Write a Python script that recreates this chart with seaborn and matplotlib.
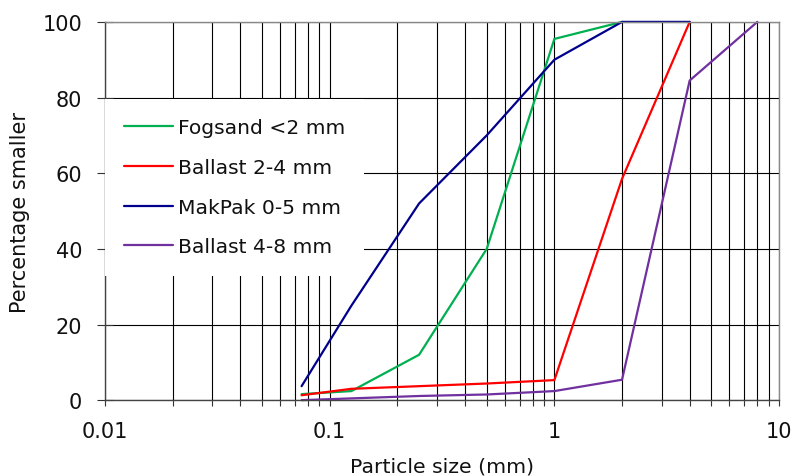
import numpy as np
import pandas as pd
import seaborn as sns
import matplotlib
matplotlib.use('Agg')
import matplotlib.pyplot as plt
from matplotlib.ticker import LogLocator, NullFormatter

# sieve data
fog_x = [0.075, 0.125, 0.25, 0.5, 1, 2]
fog_y = [1.6, 2.4, 12, 40, 95.5, 100]
b24_x = [0.075, 0.125, 0.25, 0.5, 1, 2, 4]
b24_y = [1.3, 3.0, 3.7, 4.4, 5.3, 58.5, 100]
mak_x = [0.075, 0.125, 0.25, 0.5, 1, 2, 4]
mak_y = [3.7, 25, 52, 70, 90, 100, 100]
b48_x = [0.075, 0.25, 0.5, 1, 2, 4, 8]
b48_y = [0.0, 1.1, 1.5, 2.4, 5.4, 84.5, 100]

names = ['Fogsand <2 mm', 'Ballast 2-4 mm', 'MakPak 0-5 mm', 'Ballast 4-8 mm']
colors = ['#00B050', '#FF0000', '#00008C', '#7030A0']
xticks = [0.01, 0.1, 1, 10]
xtick_labels = ['0.01', '0.1', '1', '10']
yticks = [0, 20, 40, 60, 80, 100]

frames = []
for n, xs, ys in zip(names, [fog_x, b24_x, mak_x, b48_x], [fog_y, b24_y, mak_y, b48_y]):
    frames.append(pd.DataFrame({'size': xs, 'pct': ys, 'mat': n}))
df = pd.concat(frames, ignore_index=True)

sns.set_style('white')
plt.rcParams['font.family'] = ['DejaVu Sans']
plt.rcParams['text.color'] = '#111111'
plt.rcParams['axes.labelcolor'] = '#111111'
plt.rcParams['xtick.labelcolor'] = '#111111'
plt.rcParams['ytick.labelcolor'] = '#111111'

fig = plt.figure(figsize=(7.95, 4.77), dpi=100)
ax = fig.add_axes([0.132, 0.159, 0.848, 0.793])

sns.lineplot(data=df, x='size', y='pct', hue='mat', hue_order=names,
             palette=colors, estimator=None, sort=True, linewidth=1.6, ax=ax)
for ln in ax.get_lines():
    ln.set_clip_on(False)

ax.set_xscale('log')
ax.set_xlim(0.01, 10)
ax.set_ylim(0, 100)
ax.set_xticks(xticks)
ax.set_xticklabels(xtick_labels)
ax.xaxis.set_minor_locator(LogLocator(base=10, subs=np.arange(2, 10)))
ax.xaxis.set_minor_formatter(NullFormatter())
ax.set_yticks(yticks)

ax.grid(which='both', axis='x', color='black', linewidth=0.8)
ax.grid(which='major', axis='y', color='black', linewidth=0.8)
ax.set_axisbelow(True)

ax.tick_params(axis='y', which='major', direction='inout', length=11, width=0.8,
               color='#333333', labelsize=15, left=True, pad=11)
ax.tick_params(axis='x', which='both', direction='out', length=4, width=0.8,
               color='#333333', labelsize=15, bottom=True, pad=11)

for s in ['left', 'bottom']:
    ax.spines[s].set_color('#444444')
    ax.spines[s].set_linewidth(1.0)
for s in ['top', 'right']:
    ax.spines[s].set_color('#888888')
    ax.spines[s].set_linewidth(1.0)

ax.set_xlabel('Particle size (mm)', fontsize=14.7, labelpad=11)
ax.set_ylabel('Percentage smaller', fontsize=15, labelpad=9)

leg = ax.legend(loc='upper left', bbox_to_anchor=(0, 0.796), borderaxespad=0,
                frameon=True, fancybox=False, fontsize=14.6, handlelength=2.4,
                handletextpad=0.25, labelspacing=1.02, borderpad=0.95)
leg.get_frame().set_facecolor('white')
leg.get_frame().set_edgecolor('none')
leg.get_frame().set_alpha(1)
for line in leg.get_lines():
    line.set_linewidth(1.6)

fig.savefig('out.png', dpi=100)
